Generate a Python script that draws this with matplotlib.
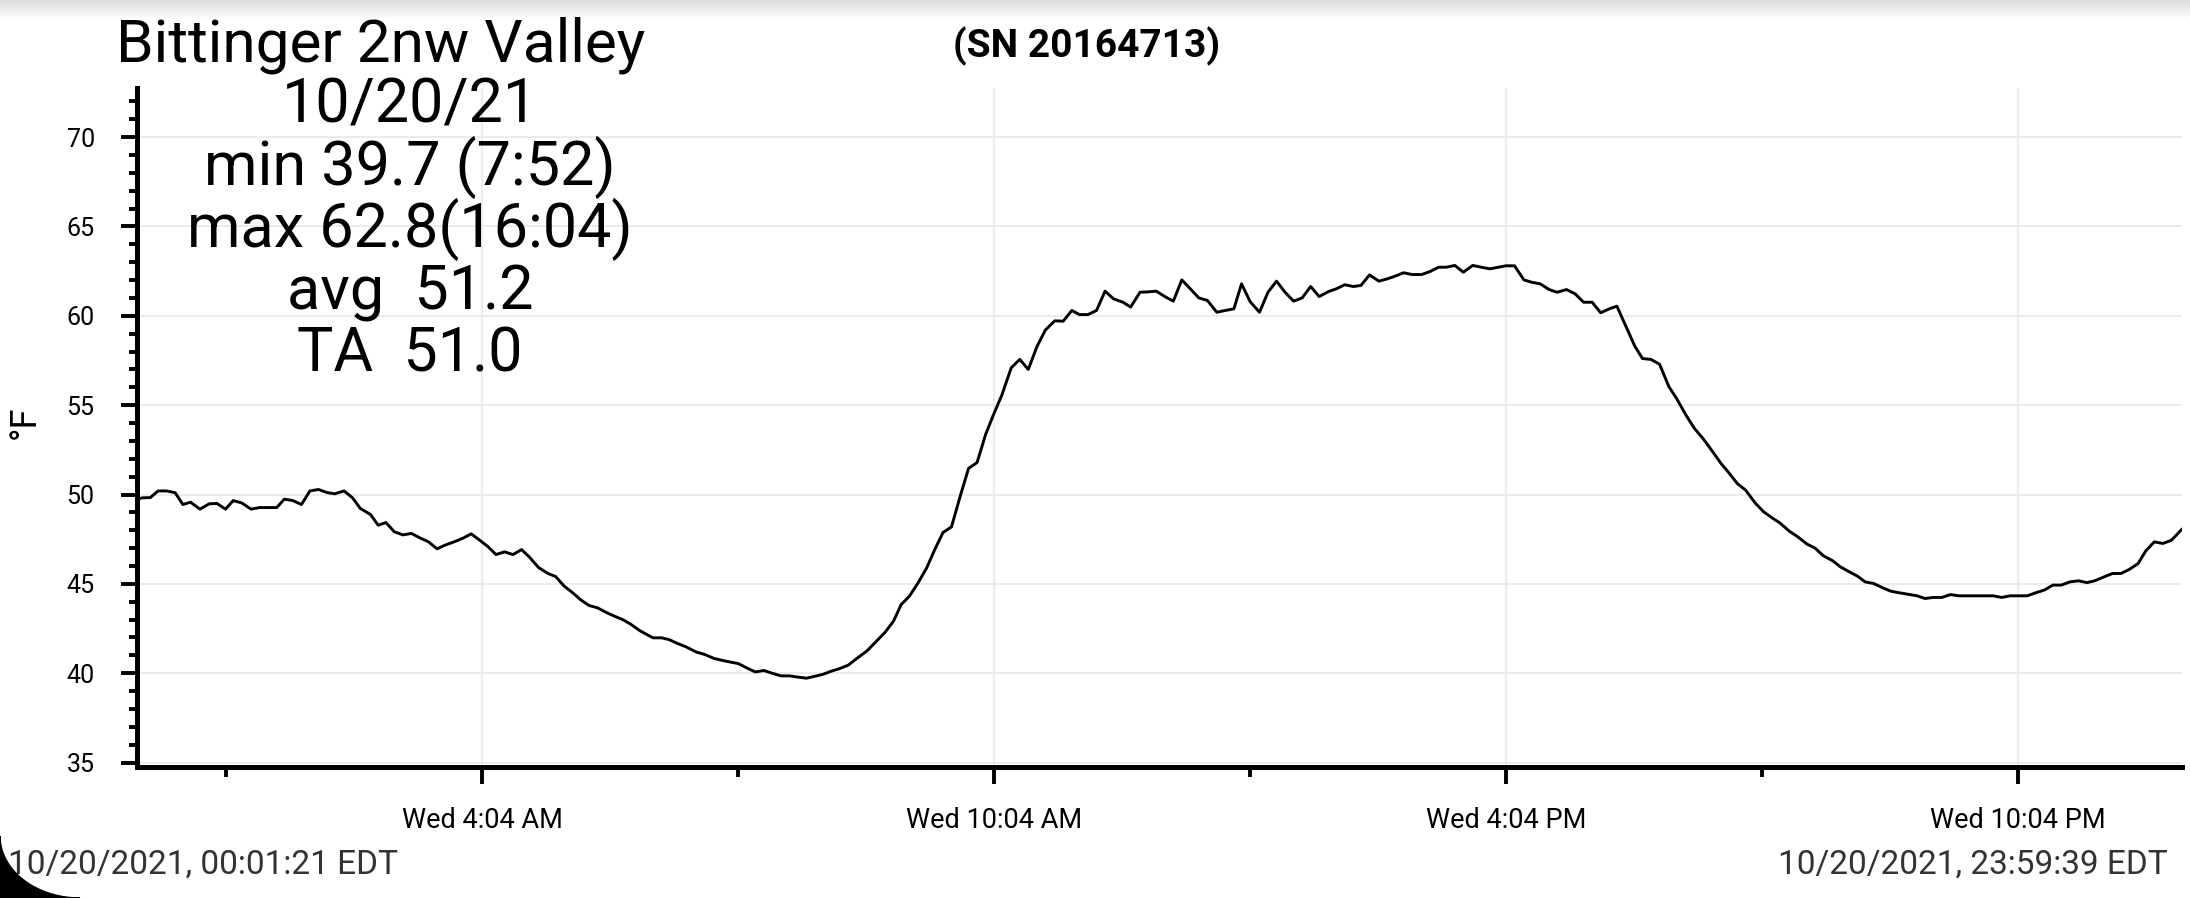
import numpy as np
import matplotlib
matplotlib.use("Agg")
import matplotlib.pyplot as plt
from matplotlib.ticker import FixedLocator, MultipleLocator
from matplotlib.patches import Polygon

plt.rcParams['font.family'] = ['Roboto', 'DejaVu Sans']

# --- data (hours after midnight, deg F) ---
hours = [0.02, 0.08, 0.18, 0.27, 0.37, 0.47, 0.56, 0.65, 0.76, 0.87, 0.96, 1.06, 1.15, 1.25, 1.36, 1.46,
         1.56, 1.66, 1.75, 1.85, 1.95, 2.05, 2.15, 2.25, 2.34, 2.45, 2.55, 2.64, 2.76, 2.85, 2.94, 3.04,
         3.14, 3.24, 3.34, 3.44, 3.54, 3.63, 3.75, 3.85, 3.94, 4.04, 4.14, 4.23, 4.33, 4.43, 4.53, 4.62,
         4.73, 4.84, 4.93, 5.03, 5.13, 5.22, 5.32, 5.42, 5.51, 5.61, 5.72, 5.81, 5.92,
         6.07, 6.17, 6.26, 6.36, 6.46, 6.58, 6.67, 6.79, 6.89, 6.98, 7.07, 7.16, 7.27, 7.37, 7.48, 7.57,
         7.67, 7.77, 7.87, 7.97, 8.06, 8.16, 8.26, 8.36, 8.47, 8.58, 8.69, 8.79, 8.89, 8.98, 9.08, 9.18,
         9.28, 9.37, 9.47, 9.57, 9.67, 9.77, 9.87, 9.97, 10.06, 10.16, 10.27, 10.37, 10.47, 10.57, 10.67,
         10.78, 10.88, 10.98, 11.07, 11.17, 11.27, 11.37, 11.47, 11.58, 11.67, 11.78, 11.87, 11.97, 12.07,
         12.17, 12.27, 12.37, 12.47, 12.57, 12.68, 12.78, 12.88, 12.97, 13.07, 13.18, 13.28, 13.38, 13.48,
         13.58, 13.68, 13.78, 13.88, 13.99, 14.08, 14.18, 14.28, 14.37, 14.47, 14.58, 14.68, 14.77, 14.87,
         14.97, 15.08, 15.18, 15.28, 15.37, 15.47, 15.57, 15.68, 15.78, 15.88, 15.98, 16.07, 16.17, 16.28,
         16.37, 16.47, 16.58, 16.67, 16.78, 16.88, 16.98, 17.08, 17.18, 17.28, 17.37, 17.47, 17.58,
         17.67, 17.77, 17.87, 17.98, 18.07, 18.18, 18.28, 18.38, 18.48, 18.59, 18.68, 18.78, 18.88, 18.99,
         19.09, 19.19, 19.28, 19.39, 19.49, 19.6, 19.69, 19.79, 19.9, 19.99, 20.08, 20.19, 20.28, 20.38,
         20.48, 20.58, 20.68, 20.78, 20.89, 20.98, 21.08, 21.18, 21.28, 21.38, 21.48, 21.59, 21.68, 21.78,
         21.88, 21.98, 22.08, 22.18, 22.28, 22.38, 22.48, 22.58, 22.68, 22.78, 22.88, 22.97, 23.08, 23.18,
         23.28, 23.38, 23.48, 23.57, 23.67, 23.77, 23.87, 23.99]
temps = [49.72, 49.81, 49.83, 50.2, 50.2, 50.1, 49.44, 49.57, 49.18, 49.48, 49.5, 49.18, 49.66, 49.53, 49.18, 49.27,
         49.27, 49.27, 49.74, 49.66, 49.44, 50.2, 50.28, 50.11, 50.04, 50.2, 49.81, 49.22, 48.88, 48.28, 48.43, 47.91,
         47.74, 47.82, 47.57, 47.35, 46.96, 47.16, 47.37, 47.57, 47.8, 47.44, 47.07, 46.64, 46.79, 46.64, 46.92, 46.51,
         45.91, 45.58, 45.41, 44.87, 44.5, 44.12, 43.79, 43.66, 43.43, 43.21, 42.99, 42.74, 42.37,
         41.98, 41.98, 41.88, 41.66, 41.47, 41.18, 41.06, 40.82, 40.71, 40.62, 40.54, 40.32, 40.07, 40.15, 39.98, 39.85,
         39.85, 39.78, 39.72, 39.83, 39.93, 40.11, 40.26, 40.45, 40.86, 41.25, 41.79, 42.28, 42.91, 43.84, 44.33, 45.07,
         45.9, 46.88, 47.87, 48.19, 49.87, 51.46, 51.79, 53.36, 54.44, 55.56, 57.09, 57.56, 57.0, 58.26, 59.2,
         59.72, 59.7, 60.3, 60.07, 60.07, 60.3, 61.38, 60.95, 60.76, 60.49, 61.32, 61.34, 61.38, 61.08,
         60.82, 62.01, 61.51, 61.0, 60.86, 60.2, 60.3, 60.39, 61.79, 60.8, 60.2, 61.32, 61.94, 61.32,
         60.82, 61.0, 61.64, 61.08, 61.36, 61.51, 61.74, 61.64, 61.7, 62.29, 61.94, 62.07, 62.22, 62.41,
         62.31, 62.31, 62.48, 62.72, 62.72, 62.82, 62.44, 62.82, 62.72, 62.63, 62.72, 62.8, 62.8, 62.01,
         61.88, 61.79, 61.46, 61.32, 61.47, 61.23, 60.76, 60.76, 60.17, 60.39, 60.54, 59.48, 58.3,
         57.61, 57.56, 57.29, 56.03, 55.37, 54.44, 53.69, 53.13, 52.48, 51.74, 51.23, 50.62, 50.24, 49.53,
         49.03, 48.69, 48.41, 47.95, 47.63, 47.22, 47.01, 46.57, 46.29, 45.95, 45.71, 45.43, 45.11, 45.02,
         44.79, 44.59, 44.5, 44.42, 44.33, 44.18, 44.24, 44.24, 44.4, 44.33, 44.33, 44.33, 44.33, 44.33,
         44.24, 44.33, 44.33, 44.33, 44.5, 44.65, 44.93, 44.93, 45.11, 45.17, 45.07, 45.17, 45.39, 45.58,
         45.58, 45.82, 46.14, 46.85, 47.35, 47.26, 47.44, 48.04]

x_major = [4 + 4 / 60, 10 + 4 / 60, 16 + 4 / 60, 22 + 4 / 60]
x_minor = [1 + 4 / 60, 7 + 4 / 60, 13 + 4 / 60, 19 + 4 / 60]
x_labels = ["Wed 4:04 AM", "Wed 10:04 AM", "Wed 4:04 PM", "Wed 10:04 PM"]

title = "Bittinger 2nw Valley"
stats = ["10/20/21", "min 39.7 (7:52)", "max 62.8(16:04)", "avg  51.2", "TA  51.0"]
serial = "(SN 20164713)"
start_txt = "10/20/2021, 00:01:21 EDT"
end_txt = "10/20/2021, 23:59:39 EDT"

W, H = 2190, 898
fig = plt.figure(figsize=(W / 100, H / 100), dpi=100)
ax = fig.add_axes([137 / W, 1 - 767 / H, (2182 - 137) / W, (767 - 88) / H])

ax.plot(hours, temps, color='black', lw=2.1)
ax.set_xlim(0.0225, 23.994)
ax.set_ylim(34.75, 72.75)

ax.xaxis.set_major_locator(FixedLocator(x_major))
ax.xaxis.set_minor_locator(FixedLocator(x_minor))
ax.set_xticklabels(x_labels)
ax.yaxis.set_major_locator(MultipleLocator(5))
ax.yaxis.set_minor_locator(MultipleLocator(1))

for s in ['top', 'right']:
    ax.spines[s].set_visible(False)
for s in ['left', 'bottom']:
    ax.spines[s].set_linewidth(3.6)

ax.tick_params(axis='y', which='major', length=11.5, width=2.8, pad=19, labelsize=18)
ax.tick_params(axis='y', which='minor', length=6, width=2.8)
ax.tick_params(axis='x', which='major', length=12, width=2.8, pad=17, labelsize=19.5)
ax.tick_params(axis='x', which='minor', length=7, width=2.8)
ax.grid(True, which='major', color='#e8e8e8', lw=1.2)
ax.set_axisbelow(True)

ax.set_ylabel("°F", fontsize=26, rotation=90)
ax.yaxis.set_label_coords(-0.046, 0.507)

# header texts
fig.text(381 / W, 1 - 61 / H, title, ha='center', va='baseline', fontsize=43.5)
for i, line in enumerate(stats):
    fig.text(410 / W, 1 - (123 + 62 * i) / H, line, ha='center', va='baseline', fontsize=44)
fig.text(1087 / W, 1 - 57 / H, serial, ha='center', va='baseline', fontsize=28, fontweight='bold')
fig.text(8 / W, 1 - 874 / H, start_txt, ha='left', va='baseline', fontsize=24, color='#333333')
fig.text(2168 / W, 1 - 874 / H, end_txt, ha='right', va='baseline', fontsize=24, color='#333333')

# screenshot shading at the top and the rounded corner bottom-left
top = fig.add_axes([0, 1 - 20 / H, 1, 20 / H])
top.imshow(np.linspace(0.86, 1.0, 20)[:, None], cmap='gray', vmin=0, vmax=1, aspect='auto')
top.axis('off')
theta = np.linspace(np.pi, 1.5 * np.pi, 30)
arc = np.column_stack([80 + 80 * np.cos(theta), 62 + 62 * np.sin(theta)])
corner = np.vstack([[[0, 0]], arc[::-1], [[0, 0]]])
fig.patches.append(Polygon(np.column_stack([corner[:, 0] / W, corner[:, 1] / H]),
                           closed=True, color='black', transform=fig.transFigure, zorder=5))

fig.savefig("out.png", dpi=100)
